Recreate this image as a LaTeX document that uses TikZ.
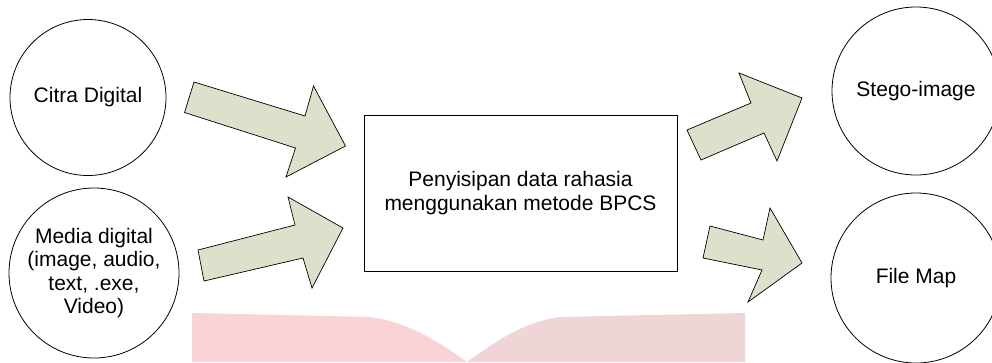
\documentclass[tikz,border=0pt]{standalone}
\usepackage{fontspec}
\setmainfont{Liberation Sans}
\definecolor{arrowfill}{RGB}{221,225,204}
\definecolor{wmleft}{RGB}{249,211,213}
\definecolor{wmright}{RGB}{240,213,215}
\tikzset{
  every node/.style={font=\fontsize{21}{23.5}\selectfont, text=black},
  bubble/.style={circle, draw=black, line width=0.8pt, align=center, inner sep=0pt},
  procbox/.style={rectangle, draw=black, line width=0.8pt, align=center, inner sep=0pt},
  blockarrow/.style={draw=black, line width=0.7pt, fill=arrowfill, line join=miter},
}
\begin{document}
\begin{tikzpicture}[x=1pt, y=-1pt]
\useasboundingbox (0,0) rectangle (992,362);
% faint watermark
\fill[wmleft] (192,313) -- (370,317) .. controls (405,322) and (432,337) .. (467,362) -- (192,362) -- cycle;
\fill[wmright] (467,362) .. controls (502,337) and (525,322) .. (560,317) -- (745,313) -- (745,362) -- cycle;
% nodes
\node[bubble, minimum size=156pt] (citra) at (88,97.5) {Citra Digital};
\node[bubble, minimum size=170pt] (media) at (94,273) {Media digital\\(image, audio,\\text, .exe,\\Video)};
\node[procbox, minimum width=313pt, minimum height=156pt] (proc) at (520.5,193) {Penyisipan data rahasia\\menggunakan metode BPCS};
\node[bubble, minimum size=168pt] (stego) at (916,91) {Stego-image};
\node[bubble, minimum size=170pt] (filemap) at (916,278) {File Map};
% block arrows
\draw[blockarrow] (194,82) -- (305,116) -- (313.5,86) -- (345.5,146) -- (286,177) -- (295.5,148) -- (184.5,112.5) -- cycle;
\draw[blockarrow] (198,250) -- (295,225) -- (288,197) -- (343,228) -- (312,288) -- (303,258) -- (204,281) -- cycle;
\draw[blockarrow] (687,130) -- (751,103) -- (739,73) -- (802,98) -- (777,161) -- (764,133) -- (701,160) -- cycle;
\draw[blockarrow] (710,226) -- (763,240) -- (770,208) -- (802,263) -- (748,302) -- (762,270) -- (703,258) -- cycle;
\end{tikzpicture}
\end{document}
